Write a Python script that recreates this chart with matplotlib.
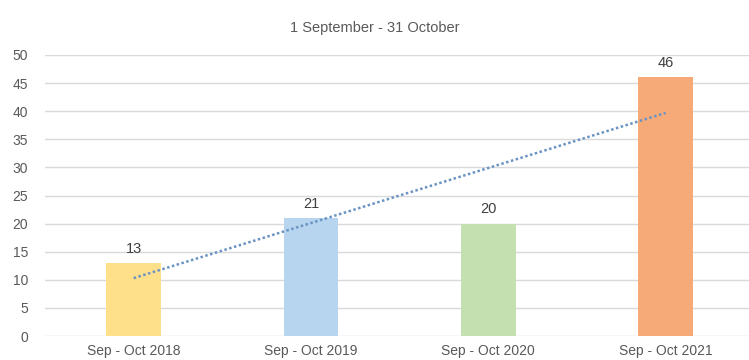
import numpy as np
import matplotlib
matplotlib.use("Agg")
import matplotlib.pyplot as plt

plt.rcParams['font.family'] = ['Liberation Sans', 'DejaVu Sans']

categories = ["Sep - Oct 2018", "Sep - Oct 2019", "Sep - Oct 2020", "Sep - Oct 2021"]
values = [13, 21, 20, 46]
bar_colors = ["#FFE08A", "#B7D5EE", "#C5E0B0", "#F5AA78"]
y_ticks = [0, 5, 10, 15, 20, 25, 30, 35, 40, 45, 50]

fig = plt.figure(figsize=(7.49, 3.60), dpi=100)
ax = fig.add_axes([45 / 749, 24 / 360, 704 / 749, 281 / 360])

x = np.arange(len(categories))
ax.bar(x, values, width=0.31, color=bar_colors, zorder=3)

# linear trend line across the periods
coef = np.polyfit(x, values, 1)
ax.plot(x, np.polyval(coef, x), linestyle=(0, (1, 1)), color="#6A93C4",
        linewidth=1.8, zorder=4)

for xi, v in zip(x, values):
    ax.text(xi, v + 1.3, str(v), ha="center", va="bottom", fontsize=10.5,
            color="#404040")

ax.set_ylim(0, 50)
ax.set_xlim(-0.5, 3.47)
ax.set_yticks(y_ticks)
ax.set_xticks(x)
ax.set_xticklabels(categories)
ax.tick_params(axis="both", length=0, labelsize=10, labelcolor="#595959")
ax.tick_params(axis="y", pad=12)
ax.tick_params(axis="x", pad=6)
ax.yaxis.grid(True, color="#D9D9D9", linewidth=1, zorder=0)
for s in ax.spines.values():
    s.set_visible(False)

fig.text(0.5, 1 - 28 / 360, "1 September - 31 October", ha="center",
         va="center", fontsize=10.5, color="#595959")

fig.savefig("out.png", dpi=100)
